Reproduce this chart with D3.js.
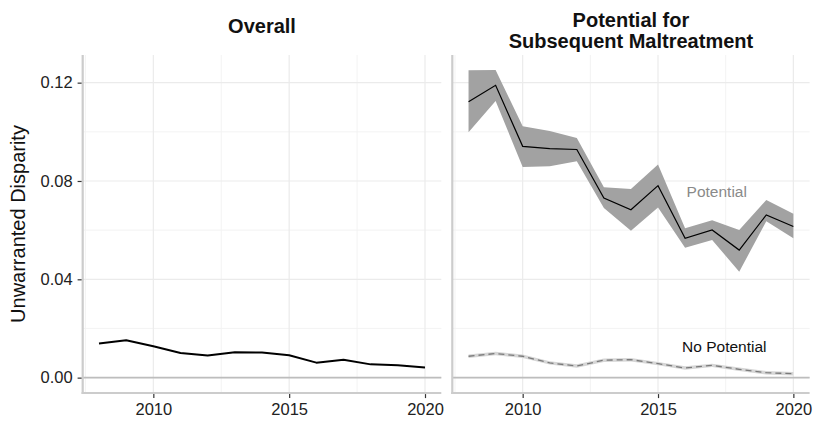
<!DOCTYPE html>
<html>
<head>
<meta charset="utf-8">
<script src="https://cdn.jsdelivr.net/npm/d3@7"></script>
<style>
  html, body { margin: 0; padding: 0; background: #ffffff; }
  svg { display: block; font-family: "Liberation Sans", Arial, Helvetica, sans-serif; }
</style>
</head>
<body>
<svg id="chart" width="815" height="425"></svg>
<script>
// Years covered by every series
const years = [2008, 2009, 2010, 2011, 2012, 2013, 2014, 2015, 2016, 2017, 2018, 2019, 2020];

// Overall unwarranted disparity
const overall = [0.0139, 0.0152, 0.0128, 0.0100, 0.0090, 0.0103, 0.0102, 0.0091, 0.0061, 0.0073, 0.0054, 0.0050, 0.0041];

// Potential for subsequent maltreatment: estimate and interval
const potential      = [0.1122, 0.1189, 0.0941, 0.0932, 0.0928, 0.0731, 0.0683, 0.0781, 0.0567, 0.0601, 0.0519, 0.0662, 0.0615];
const potentialLower = [0.0998, 0.1125, 0.0857, 0.0860, 0.0880, 0.0690, 0.0598, 0.0692, 0.0528, 0.0560, 0.0431, 0.0636, 0.0567];
const potentialUpper = [0.1250, 0.1251, 0.1023, 0.1003, 0.0975, 0.0774, 0.0767, 0.0867, 0.0608, 0.0640, 0.0601, 0.0723, 0.0667];

// No potential: estimate and interval
const noPotential      = [0.0087, 0.0098, 0.0087, 0.0060, 0.0047, 0.0071, 0.0073, 0.0057, 0.0039, 0.0050, 0.0034, 0.0020, 0.0016];
const noPotentialLower = [0.0080, 0.0091, 0.0080, 0.0053, 0.0040, 0.0064, 0.0066, 0.0050, 0.0032, 0.0043, 0.0027, 0.0013, 0.0009];
const noPotentialUpper = [0.0094, 0.0105, 0.0094, 0.0067, 0.0054, 0.0078, 0.0080, 0.0064, 0.0046, 0.0057, 0.0041, 0.0027, 0.0023];

// Axis breaks
const xMajor = [2010, 2015, 2020];
const xMinor = [2007.5, 2012.5, 2017.5];
const yMajor = [0, 0.04, 0.08, 0.12];
const yMinor = [0.02, 0.06, 0.10];
const yTickLabels = ["0.00", "0.04", "0.08", "0.12"];

// Panel titles and series labels
const panelTitles = [["Overall"], ["Potential for", "Subsequent Maltreatment"]];
const seriesLabels = [
  { text: "Potential", x: 2017.17, y: 0.0757, color: "#8a8a8a" },
  { text: "No Potential", x: 2017.45, y: 0.0126, color: "#111111" }
];
const yTitle = "Unwarranted Disparity";

const svg = d3.select("#chart");

// Layout
const panelTop = 55, panelBottom = 393;
const panels = [
  { x0: 82.7, x1: 441.3 },
  { x0: 452.3, x1: 809.6 }
];

const xDomain = [2007.4, 2020.6];
const yScale = d3.scaleLinear().domain([-0.00625, 0.13125]).range([panelBottom, panelTop]);

const xScales = panels.map(p => d3.scaleLinear().domain(xDomain).range([p.x0, p.x1]));

const idx = d3.range(years.length);

panels.forEach((p, pi) => {
  const x = xScales[pi];
  const g = svg.append("g");

  // minor grid
  g.selectAll(".ymin").data(yMinor).join("line")
    .attr("x1", p.x0).attr("x2", p.x1)
    .attr("y1", d => yScale(d)).attr("y2", d => yScale(d))
    .attr("stroke", "#f2f2f2").attr("stroke-width", 0.9);
  g.selectAll(".xmin").data(xMinor).join("line")
    .attr("x1", d => x(d)).attr("x2", d => x(d))
    .attr("y1", panelTop).attr("y2", panelBottom)
    .attr("stroke", "#f2f2f2").attr("stroke-width", 0.9);

  // major grid
  g.selectAll(".ymaj").data(yMajor).join("line")
    .attr("x1", p.x0).attr("x2", p.x1)
    .attr("y1", d => yScale(d)).attr("y2", d => yScale(d))
    .attr("stroke", "#ebebeb").attr("stroke-width", 1.2);
  g.selectAll(".xmaj").data(xMajor).join("line")
    .attr("x1", d => x(d)).attr("x2", d => x(d))
    .attr("y1", panelTop).attr("y2", panelBottom)
    .attr("stroke", "#ebebeb").attr("stroke-width", 1.2);

  // reference line at zero
  g.append("line")
    .attr("x1", p.x0).attr("x2", p.x1)
    .attr("y1", yScale(0)).attr("y2", yScale(0))
    .attr("stroke", "#bdbdbd").attr("stroke-width", 1.6);

  // axis lines
  g.append("line")
    .attr("x1", p.x0).attr("x2", p.x0)
    .attr("y1", panelTop).attr("y2", panelBottom + 1.1)
    .attr("stroke", "#cccccc").attr("stroke-width", 2.2);
  g.append("line")
    .attr("x1", p.x0 - 1.1).attr("x2", p.x1)
    .attr("y1", panelBottom).attr("y2", panelBottom)
    .attr("stroke", "#cccccc").attr("stroke-width", 2.2);

  // x axis ticks and labels
  const xAxis = d3.axisBottom(x).tickValues(xMajor).tickFormat(d3.format("d"))
    .tickSizeInner(4).tickSizeOuter(0).tickPadding(5);
  const xa = svg.append("g").attr("transform", `translate(0,${panelBottom + 1.1})`).call(xAxis);
  xa.select(".domain").remove();
  xa.selectAll(".tick line").attr("stroke", "#333333").attr("stroke-width", 1.2);
  xa.selectAll(".tick text").attr("fill", "#222222")
    .style("font-size", "16.5px").style("font-family", "'Liberation Sans', Arial, sans-serif");

  // panel titles
  const lines = panelTitles[pi];
  const cx = (p.x0 + p.x1) / 2;
  const t = svg.append("text").attr("x", cx).attr("text-anchor", "middle")
    .attr("font-weight", "bold").attr("font-size", "20px").attr("fill", "#111");
  if (lines.length === 1) {
    t.append("tspan").attr("x", cx).attr("y", 33).text(lines[0]);
  } else {
    t.append("tspan").attr("x", cx).attr("y", 27).text(lines[0]);
    t.append("tspan").attr("x", cx).attr("y", 48).text(lines[1]);
  }
});

// y axis on the first panel
{
  const yAxis = d3.axisLeft(yScale).tickValues(yMajor).tickFormat((d, i) => yTickLabels[i])
    .tickSizeInner(4).tickSizeOuter(0).tickPadding(5);
  const ya = svg.append("g").attr("transform", `translate(${panels[0].x0 - 1.1},0)`).call(yAxis);
  ya.select(".domain").remove();
  ya.selectAll(".tick line").attr("stroke", "#333333").attr("stroke-width", 1.2);
  ya.selectAll(".tick text").attr("fill", "#222222")
    .style("font-size", "16.5px").style("font-family", "'Liberation Sans', Arial, sans-serif");
}

// y axis title
svg.append("text")
  .attr("transform", `translate(25,${(panelTop + panelBottom) / 2}) rotate(-90)`)
  .attr("text-anchor", "middle").attr("font-size", "20px").attr("fill", "#111")
  .text(yTitle);

// Overall panel
{
  const x = xScales[0];
  const line = d3.line().x(i => x(years[i])).y(i => yScale(overall[i]));
  svg.append("path").attr("d", line(idx))
    .attr("fill", "none").attr("stroke", "#000").attr("stroke-width", 2)
    .attr("stroke-linejoin", "round");
}

// Potential panel
{
  const x = xScales[1];
  const areaP = d3.area().x(i => x(years[i]))
    .y0(i => yScale(potentialLower[i])).y1(i => yScale(potentialUpper[i]));
  svg.append("path").attr("d", areaP(idx)).attr("fill", "#a2a2a2");

  const areaN = d3.area().x(i => x(years[i]))
    .y0(i => yScale(noPotentialLower[i])).y1(i => yScale(noPotentialUpper[i]));
  svg.append("path").attr("d", areaN(idx)).attr("fill", "#d6d6d6");

  const lineP = d3.line().x(i => x(years[i])).y(i => yScale(potential[i]));
  svg.append("path").attr("d", lineP(idx))
    .attr("fill", "none").attr("stroke", "#000").attr("stroke-width", 1.2);

  const lineN = d3.line().x(i => x(years[i])).y(i => yScale(noPotential[i]));
  svg.append("path").attr("d", lineN(idx))
    .attr("fill", "none").attr("stroke", "#7a7a7a").attr("stroke-width", 1.3)
    .attr("stroke-dasharray", "6,4");

  svg.selectAll(".slabel").data(seriesLabels).join("text")
    .attr("x", d => x(d.x)).attr("y", d => yScale(d.y))
    .attr("text-anchor", "middle").attr("dominant-baseline", "central")
    .attr("font-size", "15.5px").attr("fill", d => d.color)
    .text(d => d.text);
}
</script>
</body>
</html>
